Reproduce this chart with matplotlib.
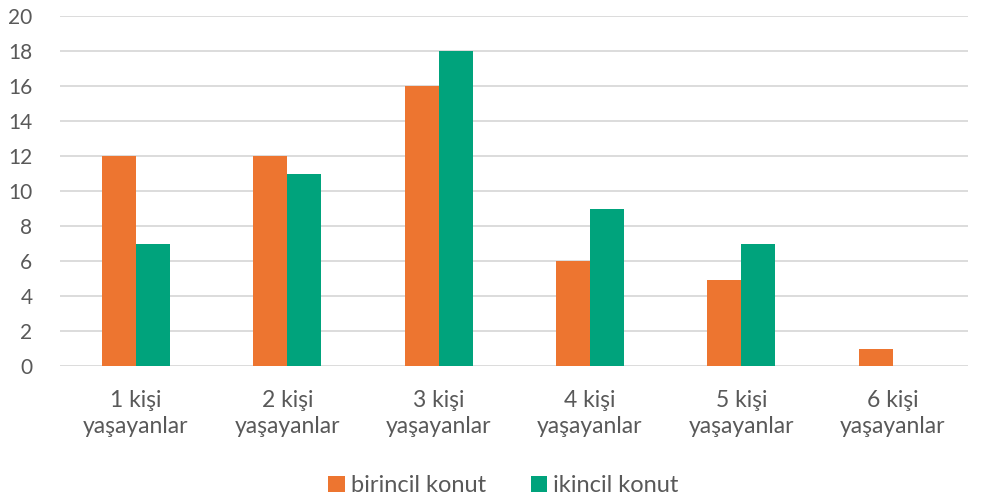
import numpy as np
import matplotlib.pyplot as plt

categories = ["1 kişi\nyaşayanlar", "2 kişi\nyaşayanlar", "3 kişi\nyaşayanlar",
              "4 kişi\nyaşayanlar", "5 kişi\nyaşayanlar", "6 kişi\nyaşayanlar"]
birincil = [12, 12, 16, 6, 4.9, 1]
ikincil = [7, 11, 18, 9, 7, 0]
series_names = ["birincil konut", "ikincil konut"]

ORANGE = "#ED7530"
GREEN = "#00A37C"
TEXT = "#595959"

plt.rcParams['font.family'] = ['Lato', 'DejaVu Sans']

fig = plt.figure(figsize=(9.87, 5), dpi=100)
ax = fig.add_axes([0.061, 0.268, 0.92, 0.70])

x = np.arange(len(categories))
w = 0.225
ax.bar(x - w / 2, birincil, w, color=ORANGE, label=series_names[0], zorder=3)
ax.bar(x + w / 2, ikincil, w, color=GREEN, label=series_names[1], zorder=3)

ax.set_xlim(-0.5, len(categories) - 0.5)
ax.set_ylim(0, 20)
ax.set_yticks(range(0, 21, 2))
ax.set_xticks(x)
ax.set_xticklabels(categories, fontsize=16.5, color=TEXT, linespacing=1.3)
ax.tick_params(axis='y', labelsize=15, labelcolor=TEXT, length=0, pad=20)
ax.tick_params(axis='x', length=0, pad=17)

ax.grid(axis='y', color='#D9D9D9', linewidth=1.3, zorder=0)
for s in ax.spines.values():
    s.set_visible(False)

fig.legend(loc='lower center', bbox_to_anchor=(0.51, -0.035), ncol=2, frameon=False,
           fontsize=17, labelcolor=TEXT, handlelength=0.7, handleheight=0.7,
           handletextpad=0.25, columnspacing=1.9)

fig.savefig("out.png", dpi=100)
